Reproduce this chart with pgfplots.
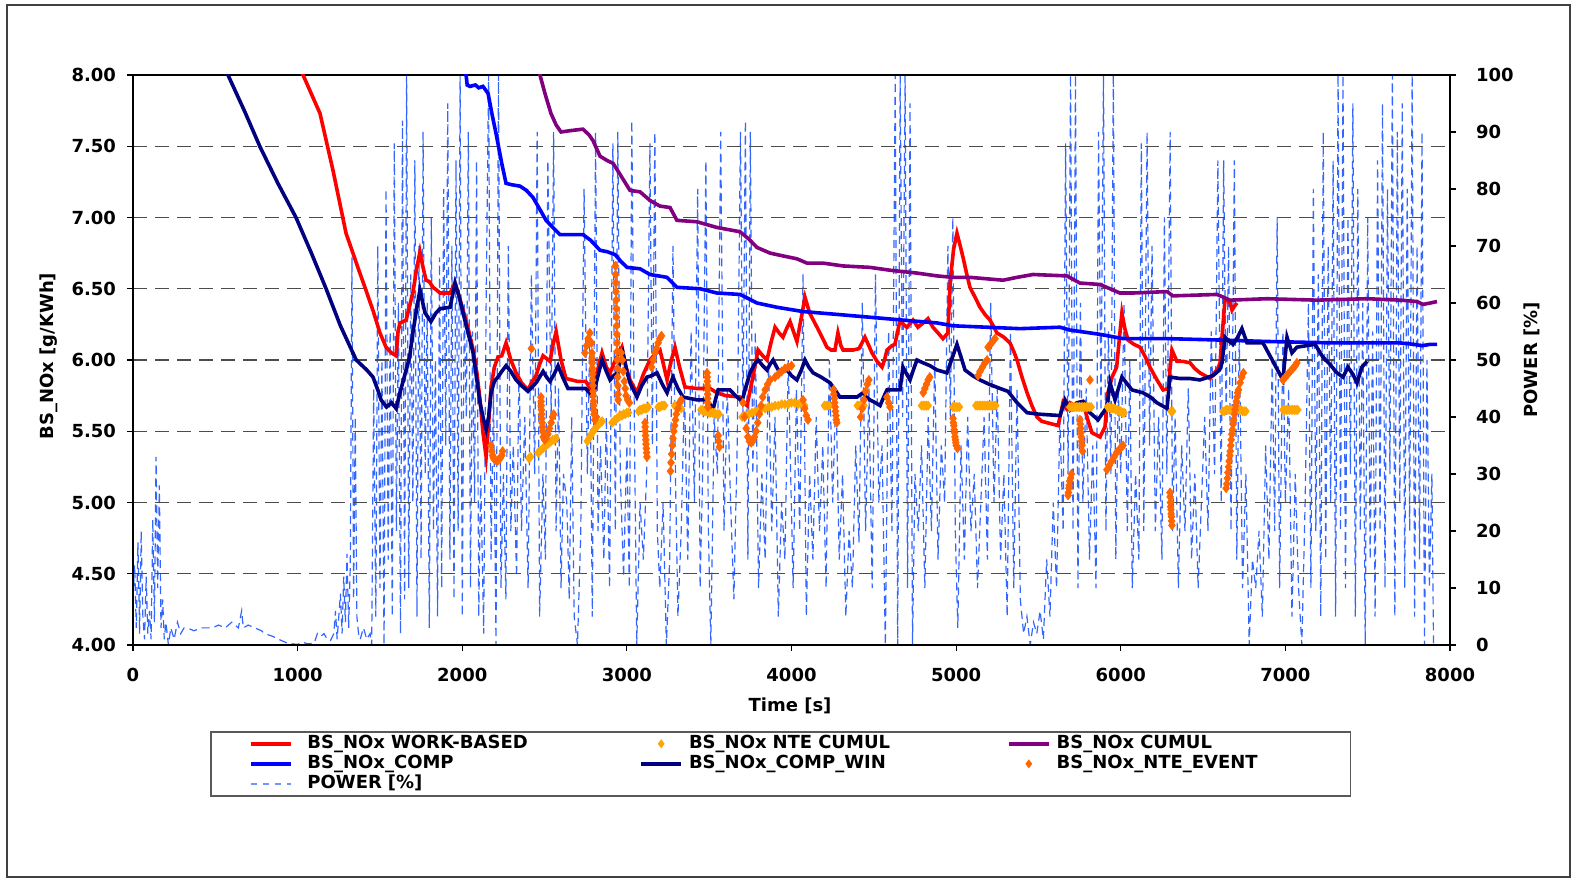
\documentclass[border=0pt]{standalone}
\usepackage{fontspec}
\setmainfont{DejaVu Sans}
\usepackage{pgfplots}
\usepackage{pgfplotstable}
\pgfplotsset{compat=1.18}
\definecolor{cRed}{RGB}{255,0,0}
\definecolor{cBlue}{RGB}{0,0,255}
\definecolor{cNavy}{RGB}{0,0,128}
\definecolor{cPurple}{RGB}{128,0,128}
\definecolor{cLOr}{RGB}{255,165,0}
\definecolor{cDOr}{RGB}{255,102,0}
\definecolor{cPow}{RGB}{51,102,255}
\newcommand\lbl{\fontsize{9}{10.5}\selectfont\bfseries}

\pgfplotstableread{
x y
450 8.33
577 8.00
680 7.74
770 7.50
880 7.24
990 7.00
1080 6.76
1173 6.50
1260 6.24
1356 6.00
1420 5.93
1458 5.88
1490 5.78
1507 5.72
1540 5.67
1570 5.70
1598 5.66
1622 5.77
1659 5.93
1680 6.02
1700 6.19
1720 6.34
1743 6.49
1774 6.33
1810 6.27
1840 6.33
1865 6.36
1926 6.37
1956 6.54
1980 6.45
2005 6.33
2040 6.17
2066 6.05
2090 5.85
2108 5.70
2130 5.58
2145 5.51
2160 5.60
2175 5.77
2195 5.85
2217 5.88
2240 5.92
2266 5.96
2295 5.92
2327 5.86
2360 5.82
2399 5.78
2425 5.81
2448 5.84
2470 5.88
2491 5.92
2512 5.88
2533 5.85
2558 5.90
2582 5.96
2610 5.88
2642 5.80
2700 5.80
2750 5.80
2794 5.74
2820 5.87
2849 6.00
2875 5.92
2898 5.86
2920 5.89
2940 5.91
2960 5.99
2976 6.05
3000 5.92
3019 5.84
3061 5.74
3090 5.82
3122 5.88
3150 5.89
3183 5.91
3215 5.83
3244 5.77
3262 5.83
3280 5.88
3310 5.80
3341 5.74
3426 5.72
3487 5.72
3510 5.68
3523 5.65
3540 5.73
3554 5.79
3626 5.79
3660 5.75
3699 5.71
3725 5.82
3748 5.91
3775 5.97
3797 6.00
3825 5.96
3851 5.93
3870 5.97
3888 6.00
3910 5.95
3930 5.91
3950 5.92
3973 5.93
4000 5.89
4033 5.86
4060 5.93
4082 6.00
4105 5.95
4131 5.91
4180 5.88
4234 5.84
4265 5.79
4294 5.74
4350 5.74
4398 5.74
4434 5.77
4455 5.74
4477 5.72
4510 5.70
4538 5.68
4560 5.74
4580 5.79
4659 5.79
4677 5.95
4700 5.90
4720 5.86
4740 5.93
4762 6.00
4800 5.98
4841 5.96
4884 5.93
4944 5.91
4975 6.01
5005 6.11
5030 6.02
5054 5.93
5100 5.89
5145 5.86
5200 5.83
5267 5.80
5315 5.78
5370 5.70
5431 5.63
5500 5.62
5631 5.61
5661 5.72
5692 5.65
5734 5.70
5771 5.71
5813 5.63
5862 5.58
5916 5.67
5935 5.84
5965 5.72
6007 5.88
6068 5.79
6135 5.77
6180 5.74
6220 5.70
6281 5.66
6299 5.88
6360 5.87
6421 5.87
6481 5.86
6560 5.89
6600 5.93
6615 5.98
6633 6.16
6660 6.13
6682 6.11
6710 6.16
6736 6.22
6767 6.12
6864 6.12
6920 6.00
6985 5.86
7010 6.16
7040 6.05
7070 6.09
7180 6.11
7228 6.02
7270 5.97
7313 5.91
7350 5.88
7380 5.95
7410 5.90
7435 5.84
7465 5.95
7496 5.99
}\tNavy

\pgfplotstableread{
x y
950 8.22
1033 8.00
1136 7.73
1215 7.33
1294 6.89
1336 6.75
1375 6.62
1415 6.49
1460 6.34
1500 6.19
1537 6.09
1570 6.05
1598 6.03
1610 6.20
1622 6.26
1659 6.28
1680 6.38
1700 6.47
1720 6.62
1743 6.76
1760 6.66
1780 6.56
1800 6.55
1822 6.51
1845 6.49
1865 6.47
1926 6.47
1956 6.54
1980 6.45
2005 6.35
2040 6.20
2066 6.07
2090 5.90
2108 5.72
2125 5.50
2145 5.32
2160 5.55
2175 5.81
2195 5.95
2217 6.02
2240 6.03
2266 6.12
2295 6.00
2327 5.91
2360 5.84
2399 5.79
2425 5.85
2448 5.89
2470 5.97
2491 6.03
2512 6.01
2533 5.99
2550 6.10
2570 6.20
2600 6.00
2630 5.87
2700 5.85
2750 5.85
2794 5.77
2820 5.92
2849 6.05
2875 5.95
2898 5.91
2930 6.00
2970 6.09
2995 5.95
3019 5.86
3061 5.77
3100 5.90
3140 6.00
3170 6.04
3201 6.07
3220 5.98
3244 5.86
3270 6.00
3292 6.09
3320 5.95
3353 5.81
3426 5.80
3505 5.80
3547 5.77
3600 5.75
3687 5.74
3710 5.70
3730 5.68
3760 5.85
3797 6.07
3825 6.03
3851 6.00
3875 6.12
3900 6.23
3925 6.19
3948 6.16
3970 6.22
3991 6.27
4012 6.20
4033 6.13
4060 6.30
4082 6.44
4110 6.33
4155 6.23
4190 6.15
4215 6.09
4240 6.07
4264 6.07
4282 6.19
4300 6.10
4313 6.07
4374 6.07
4410 6.08
4446 6.16
4470 6.10
4489 6.05
4520 5.99
4550 5.95
4565 6.00
4580 6.07
4610 6.10
4628 6.11
4645 6.20
4659 6.28
4680 6.25
4701 6.23
4738 6.28
4768 6.23
4800 6.26
4829 6.29
4859 6.23
4890 6.19
4920 6.15
4950 6.19
4958 6.40
4966 6.58
4985 6.78
5005 6.89
5025 6.80
5042 6.72
5065 6.60
5084 6.51
5115 6.44
5145 6.37
5175 6.32
5206 6.28
5230 6.23
5248 6.19
5290 6.16
5327 6.12
5350 6.06
5370 6.00
5400 5.88
5431 5.77
5460 5.68
5491 5.60
5520 5.57
5552 5.56
5619 5.54
5635 5.62
5649 5.70
5670 5.66
5692 5.70
5720 5.68
5771 5.70
5800 5.58
5825 5.49
5874 5.46
5904 5.53
5922 5.77
5947 5.88
5975 5.95
6000 6.25
6007 6.33
6025 6.22
6044 6.14
6080 6.11
6117 6.09
6150 6.02
6177 5.95
6220 5.86
6257 5.79
6290 5.80
6300 5.95
6311 6.07
6341 5.99
6380 5.99
6421 5.98
6450 5.94
6481 5.91
6542 5.87
6590 5.94
6603 5.98
6615 6.16
6633 6.42
6650 6.42
6664 6.40
6676 6.35
6692 6.38
6706 6.40
}\tRed

\pgfplotstableread{
x y
1985 8.40
2030 7.93
2047 7.92
2080 7.93
2100 7.91
2126 7.92
2157 7.87
2180 7.73
2205 7.59
2240 7.38
2266 7.24
2300 7.23
2351 7.22
2390 7.19
2430 7.14
2470 7.06
2509 6.98
2550 6.93
2594 6.88
2733 6.88
2780 6.84
2837 6.77
2880 6.76
2928 6.74
2965 6.69
3001 6.65
3080 6.64
3140 6.60
3244 6.58
3304 6.51
3444 6.50
3547 6.47
3687 6.46
3740 6.43
3790 6.40
3912 6.37
4070 6.34
4276 6.32
4477 6.30
4677 6.28
4884 6.26
4981 6.24
5188 6.23
5388 6.22
5631 6.23
5692 6.21
5874 6.18
6014 6.15
6281 6.15
6603 6.14
6888 6.13
7289 6.12
7696 6.12
7780 6.11
7830 6.10
7880 6.11
7921 6.11
}\tBlue

\pgfplotstableread{
x y
2440 8.40
2472 8.00
2505 7.86
2539 7.73
2570 7.65
2600 7.60
2660 7.61
2733 7.62
2770 7.58
2794 7.54
2837 7.43
2880 7.40
2916 7.38
2960 7.30
3019 7.19
3080 7.18
3140 7.12
3201 7.08
3262 7.07
3304 6.98
3426 6.97
3547 6.93
3687 6.90
3740 6.85
3790 6.79
3870 6.75
3950 6.73
4033 6.71
4094 6.68
4191 6.68
4313 6.66
4477 6.65
4598 6.63
4762 6.61
4884 6.59
4981 6.58
5084 6.58
5285 6.56
5370 6.58
5467 6.60
5673 6.59
5752 6.54
5874 6.53
5995 6.47
6074 6.47
6281 6.48
6317 6.45
6585 6.46
6664 6.42
6888 6.43
7192 6.42
7496 6.43
7700 6.42
7800 6.41
7836 6.39
7880 6.40
7921 6.41
}\tPurple

\pgfplotstableread{
x y
2405 5.31
2415 5.32
2460 5.35
2470 5.36
2480 5.37
2490 5.38
2500 5.39
2510 5.40
2520 5.41
2530 5.42
2540 5.43
2550 5.44
2560 5.44
2570 5.45
2760 5.43
2770 5.45
2780 5.47
2790 5.49
2800 5.51
2810 5.52
2820 5.54
2830 5.55
2840 5.56
2850 5.57
2910 5.56
2920 5.57
2930 5.58
2940 5.59
2950 5.60
2960 5.61
2970 5.61
2980 5.62
2990 5.62
3000 5.63
3010 5.63
3070 5.64
3080 5.65
3090 5.65
3100 5.66
3110 5.66
3120 5.66
3130 5.67
3190 5.67
3200 5.67
3210 5.68
3220 5.68
3230 5.68
3290 5.68
3300 5.67
3310 5.67
3320 5.67
3330 5.66
3450 5.65
3460 5.65
3470 5.64
3480 5.64
3490 5.64
3500 5.63
3510 5.63
3520 5.63
3530 5.63
3540 5.62
3550 5.62
3560 5.62
3700 5.60
3720 5.61
3740 5.62
3760 5.63
3780 5.64
3800 5.65
3820 5.66
3840 5.66
3860 5.67
3880 5.67
3900 5.68
3920 5.68
3940 5.69
3960 5.69
3980 5.69
4000 5.70
4020 5.70
4040 5.69
4060 5.69
4080 5.68
4200 5.68
4210 5.68
4220 5.68
4230 5.68
4400 5.68
4410 5.68
4420 5.68
4430 5.68
4440 5.68
4790 5.68
4800 5.68
4810 5.68
4820 5.68
4830 5.68
4980 5.67
4990 5.67
5000 5.67
5010 5.67
5020 5.67
5120 5.68
5130 5.68
5140 5.68
5150 5.68
5160 5.68
5170 5.68
5180 5.68
5190 5.68
5200 5.68
5210 5.68
5220 5.68
5230 5.68
5240 5.68
5690 5.67
5700 5.67
5710 5.67
5720 5.67
5730 5.67
5740 5.67
5750 5.67
5760 5.67
5770 5.67
5780 5.67
5790 5.67
5800 5.67
5810 5.67
5820 5.67
5920 5.67
5930 5.67
5940 5.66
5950 5.66
5960 5.66
5970 5.65
5980 5.65
5990 5.64
6000 5.64
6010 5.63
6020 5.63
6305 5.64
6315 5.64
6620 5.64
6630 5.64
6640 5.65
6650 5.65
6660 5.65
6670 5.65
6680 5.65
6690 5.65
6700 5.65
6710 5.65
6720 5.65
6730 5.65
6740 5.64
6750 5.64
6760 5.64
6985 5.65
6995 5.65
7005 5.65
7015 5.65
7025 5.65
7035 5.65
7045 5.65
7055 5.65
7065 5.65
7075 5.65
}\tNteCum

\pgfplotstableread{
x y
2175 5.40
2180 5.36
2185 5.33
2190 5.31
2200 5.30
2210 5.29
2220 5.30
2230 5.31
2240 5.33
2245 5.36
2420 6.08
2478 5.74
2479 5.71
2480 5.68
2481 5.65
2482 5.62
2483 5.59
2485 5.56
2486 5.53
2488 5.50
2492 5.46
2500 5.44
2510 5.45
2520 5.48
2530 5.52
2540 5.56
2548 5.60
2555 5.62
2745 6.05
2755 6.10
2765 6.15
2775 6.19
2785 6.12
2788 6.05
2789 6.01
2790 5.98
2791 5.94
2792 5.90
2793 5.86
2794 5.82
2795 5.78
2796 5.75
2797 5.71
2798 5.68
2799 5.65
2800 5.62
2805 5.58
2815 5.60
2930 6.66
2932 6.60
2933 6.54
2934 6.48
2935 6.42
2936 6.36
2937 6.30
2938 6.24
2939 6.18
2940 6.12
2941 6.06
2942 6.00
2943 5.94
2944 5.88
2945 5.82
2946 5.76
2947 5.72
2965 6.05
2972 6.00
2978 5.92
2985 5.85
2990 5.80
2995 5.75
3005 5.72
3015 5.70
3110 5.56
3111 5.53
3112 5.50
3113 5.47
3115 5.44
3116 5.41
3118 5.38
3120 5.35
3122 5.32
3150 5.95
3160 6.00
3170 6.05
3180 6.08
3190 6.12
3200 6.15
3210 6.17
3265 5.22
3268 5.28
3272 5.34
3276 5.40
3280 5.45
3285 5.50
3290 5.54
3295 5.58
3300 5.62
3310 5.66
3320 5.70
3330 5.72
3487 5.91
3488 5.88
3489 5.85
3489.5 5.82
3490 5.79
3490.5 5.76
3491 5.73
3491.5 5.70
3492 5.67
3555 5.47
3558 5.43
3562 5.39
3705 5.70
3715 5.60
3725 5.52
3735 5.46
3745 5.43
3755 5.42
3765 5.43
3775 5.46
3785 5.50
3795 5.56
3805 5.62
3815 5.68
3825 5.74
3840 5.79
3855 5.83
3870 5.86
3900 5.88
3920 5.90
3940 5.92
3960 5.94
3980 5.95
4000 5.96
4070 5.72
4080 5.66
4090 5.61
4100 5.58
4255 5.79
4257 5.76
4260 5.73
4262 5.70
4265 5.67
4267 5.64
4270 5.61
4272 5.58
4275 5.56
4420 5.60
4430 5.66
4440 5.72
4450 5.78
4460 5.83
4470 5.86
4580 5.74
4590 5.70
4598 5.67
4800 5.77
4810 5.80
4820 5.83
4830 5.86
4840 5.88
4981 5.59
4983 5.56
4986 5.54
4988 5.51
4991 5.49
4993 5.46
4996 5.44
4998 5.42
5001 5.40
5008 5.38
5133 5.89
5145 5.92
5160 5.95
5175 5.98
5188 6.00
5194 6.09
5208 6.11
5222 6.13
5236 6.15
5680 5.05
5682 5.07
5685 5.10
5687 5.12
5690 5.15
5695 5.17
5700 5.20
5752 5.58
5754 5.55
5756 5.52
5758 5.49
5760 5.46
5762 5.43
5764 5.40
5768 5.36
5813 5.86
5916 5.23
5930 5.26
5945 5.29
5960 5.32
5975 5.35
5990 5.37
6005 5.39
6014 5.40
6299 5.07
6300 5.04
6302 5.00
6303 4.97
6305 4.95
6306 4.92
6308 4.90
6309 4.87
6311 4.84
6640 5.10
6644 5.13
6648 5.17
6651 5.21
6655 5.25
6658 5.29
6662 5.33
6665 5.36
6668 5.40
6671 5.44
6675 5.48
6678 5.51
6682 5.55
6686 5.58
6690 5.62
6694 5.65
6698 5.68
6702 5.71
6706 5.74
6710 5.77
6715 5.79
6725 5.84
6735 5.88
6745 5.91
6985 5.86
7000 5.88
7015 5.90
7030 5.92
7045 5.94
7060 5.96
7070 5.98
}\tNteEv

\pgfplotstableread{
x y
0 8
10 14
20 3
30 18
40 2
50 20
60 5
70 1
80 12
90 2
100 6
110 1
120 22
130 4
140 33
150 10
160 28
170 3
180 8
190 1
200 4
215 0
230 3
250 1
270 4
290 2
310 3
330 3
370 2.5
420 3
480 3
520 3.5
560 3
600 4
640 3
660 6
670 3
700 3.5
740 3
780 2.5
800 2
850 1.5
900 0.8
940 0.3
1000 0.1
1030 0.5
1060 0.2
1100 0.3
1120 2
1140 1.5
1160 2
1180 1
1200 0.8
1220 2
1230 6
1240 1
1250 5
1260 9
1270 2
1280 12
1290 4
1300 16
1310 3
1320 14
1330 68
1340 8
1350 40
1360 5
1370 2
1380 1
1400 3
1420 1
1440 2
1450 0
1462 45
1475 5
1487 70
1500 10
1512 50
1525 0
1537 80
1550 15
1562 55
1575 5
1587 88
1600 20
1612 60
1625 2
1637 92
1650 8
1662 100
1675 10
1687 65
1700 25
1712 85
1725 5
1737 70
1750 15
1762 90
1775 30
1787 60
1800 3
1812 75
1825 20
1837 50
1850 5
1862 68
1875 10
1887 80
1900 35
1912 95
1925 15
1937 70
1950 8
1962 85
1975 20
1987 100
2000 5
2012 60
2025 40
2037 90
2050 10
2062 55
2075 25
2087 85
2100 5
2112 30
2130 2
2145 60
2160 100
2175 15
2190 45
2205 0
2220 100
2235 10
2250 30
2265 8
2280 70
2295 20
2310 35
2330 12
2345 50
2360 20
2380 40
2400 10
2420 65
2440 30
2455 90
2470 5
2490 30
2505 15
2520 85
2540 40
2555 90
2570 20
2585 45
2600 10
2615 30
2635 25
2650 8
2665 40
2680 5
2700 0
2720 20
2740 80
2760 30
2775 55
2790 5
2810 90
2825 20
2840 35
2860 15
2875 40
2895 10
2915 88
2930 20
2945 90
2960 30
2980 12
3000 35
3015 10
3030 92
3045 40
3060 0
3080 25
3100 15
3120 30
3140 88
3155 35
3170 90
3185 20
3200 10
3220 25
3240 0
3260 15
3280 70
3295 30
3310 5
3330 20
3350 45
3370 15
3390 55
3410 25
3430 80
3445 10
3460 30
3480 85
3495 20
3510 0
3530 40
3550 30
3570 90
3590 20
3610 45
3630 25
3650 8
3670 35
3690 90
3705 40
3720 92
3735 15
3750 90
3765 30
3780 55
3800 10
3820 30
3840 15
3860 50
3880 20
3900 40
3920 5
3940 25
3960 15
3980 50
3995 30
4010 10
4030 45
4050 20
4070 65
4090 5
4110 30
4130 15
4150 40
4170 20
4190 35
4210 10
4230 50
4250 25
4270 45
4290 15
4310 30
4330 5
4350 20
4370 10
4390 35
4410 18
4430 60
4450 20
4470 45
4490 10
4510 65
4530 25
4550 35
4570 0
4590 55
4610 20
4630 100
4645 0
4660 100
4675 40
4690 100
4705 10
4720 95
4735 0
4750 30
4770 20
4790 35
4810 10
4830 40
4850 20
4870 50
4890 15
4910 35
4930 25
4950 70
4965 40
4980 75
4995 20
5010 3
5030 35
5050 15
5070 40
5090 20
5110 30
5130 10
5150 25
5170 40
5190 15
5210 60
5230 25
5250 45
5270 15
5290 30
5310 5
5330 55
5350 10
5370 45
5390 8
5410 2
5430 5
5450 0
5470 4
5490 2
5510 6
5530 1
5550 15
5570 5
5590 25
5610 10
5630 40
5650 20
5665 88
5680 30
5695 100
5710 20
5725 100
5740 10
5755 60
5770 25
5790 45
5810 15
5830 35
5850 10
5865 90
5880 40
5895 100
5910 20
5925 55
5940 30
5955 100
5970 15
5985 45
6000 30
6020 60
6040 20
6055 50
6070 10
6090 30
6110 15
6125 88
6140 20
6160 90
6175 35
6190 70
6210 20
6230 40
6250 15
6265 75
6280 30
6300 90
6315 20
6330 40
6350 10
6370 35
6390 20
6410 45
6430 15
6450 30
6470 10
6490 25
6510 40
6530 20
6550 55
6570 30
6590 85
6610 25
6625 85
6640 40
6655 70
6670 20
6690 85
6705 15
6720 55
6740 10
6760 30
6780 0
6800 15
6820 10
6840 20
6860 5
6880 35
6900 15
6920 50
6935 20
6950 75
6965 10
6985 55
7000 25
7020 45
7040 5
7060 30
7080 10
7100 0
7120 25
7140 60
7155 10
7170 80
7185 20
7200 65
7215 5
7230 90
7245 15
7260 70
7275 25
7290 85
7305 5
7320 100
7335 20
7350 100
7365 10
7380 75
7395 30
7410 95
7425 5
7440 80
7455 20
7470 60
7485 0
7500 75
7515 15
7530 55
7545 5
7560 85
7575 20
7590 95
7605 10
7620 80
7635 30
7650 100
7665 5
7680 90
7695 25
7710 95
7725 10
7740 80
7755 20
7770 100
7785 5
7800 70
7815 15
7830 90
7845 0
7860 50
7875 10
7890 30
7900 0
}\tPow

\begin{document}
\begin{tikzpicture}
\useasboundingbox (0pt,0pt) rectangle (787pt,439pt);
\draw[line width=1pt, black!75] (3.5pt,0.5pt) rectangle (785pt,436.5pt);

% secondary axis: power
\begin{axis}[
  at={(66.5pt,116.5pt)}, anchor=south west,
  width=658.5pt, height=285pt, scale only axis,
  xmin=0, xmax=8000, ymin=0, ymax=100,
  axis x line=none, axis y line*=right,
  axis line style={black, line width=0.6pt},
  ytick={0,10,...,100}, tick align=outside, major tick length=3pt,
  tick style={black, line width=0.6pt},
  /pgf/number format/assume math mode=true,
  yticklabel style={font=\lbl, xshift=6.5pt},
  every axis y label/.style={at={(rel axis cs:1,0.5)}, xshift=41pt, rotate=90, anchor=center, font=\lbl},
  ylabel={POWER [\%]},
]
\addplot[cPow, line width=0.6pt, dash pattern=on 4pt off 2.5pt] table {\tPow};
\end{axis}

% primary axis
\begin{axis}[
  at={(66.5pt,116.5pt)}, anchor=south west,
  width=658.5pt, height=285pt, scale only axis,
  xmin=0, xmax=8000, ymin=4, ymax=8,
  xtick={0,1000,...,8000}, ytick={4,4.5,...,8},
  tick align=outside, tick pos=left, major tick length=3pt,
  tick style={black, line width=0.6pt},
  axis line style={line width=0.6pt},
  ymajorgrids, grid style={black!70, line width=0.6pt, dash pattern=on 7pt off 4pt},
  /pgf/number format/assume math mode=true,
  x tick label style={font=\lbl, yshift=-5pt, /pgf/number format/1000 sep={}},
  y tick label style={font=\lbl, xshift=-2pt, /pgf/number format/fixed, /pgf/number format/fixed zerofill, /pgf/number format/precision=2},
  every axis x label/.style={at={(axis description cs:0.4989,0)}, yshift=-30.5pt, anchor=center, font=\lbl},
  every axis y label/.style={at={(axis description cs:0,0.507)}, xshift=-42pt, rotate=90, anchor=center, font=\lbl},
  xlabel={Time [s]}, ylabel={BS\_NOx [g/KWh]},
  legend columns=3, legend cell align=left,
  legend image code/.code={\draw[mark repeat=2,mark phase=2,#1] plot coordinates {(0pt,0pt) (10pt,0pt) (20pt,0pt)};},
  legend style={at={(axis description cs:0.05847,-0.1509)}, anchor=north west,
    draw=black!65, line width=0.8pt, inner xsep=19pt, inner ysep=1pt, font=\lbl,
    nodes={text width=128pt, text height=7pt, text depth=2.5pt, inner xsep=0pt, inner ysep=0.25pt, align=left},
    /tikz/column 1/.style={column sep=7.5pt},
    /tikz/column 2/.style={column sep=38pt},
    /tikz/column 3/.style={column sep=3pt},
    /tikz/column 4/.style={column sep=31pt},
    /tikz/column 5/.style={column sep=3pt}},
]
\addplot[cRed, line width=1.8pt, forget plot] table {\tRed};
\addplot[only marks, mark=diamond*, mark size=2.2pt, color=cLOr, forget plot] table {\tNteCum};
\addplot[cPurple, line width=1.8pt, forget plot] table {\tPurple};
\addplot[cBlue, line width=1.8pt, forget plot] table {\tBlue};
\addplot[cNavy, line width=1.8pt, forget plot] table {\tNavy};
\addplot[only marks, mark=diamond*, mark size=2.2pt, color=cDOr, forget plot] table {\tNteEv};

\addlegendimage{cRed, line width=1.8pt}
\addlegendentry{BS\_NOx WORK-BASED}
\addlegendimage{only marks, mark=diamond*, mark size=1.6pt, color=cLOr}
\addlegendentry{BS\_NOx NTE CUMUL}
\addlegendimage{cPurple, line width=1.8pt}
\addlegendentry{BS\_NOx CUMUL}
\addlegendimage{cBlue, line width=1.8pt}
\addlegendentry{BS\_NOx\_COMP}
\addlegendimage{cNavy, line width=1.8pt}
\addlegendentry{BS\_NOx\_COMP\_WIN}
\addlegendimage{only marks, mark=diamond*, mark size=1.6pt, color=cDOr}
\addlegendentry{BS\_NOx\_NTE\_EVENT}
\addlegendimage{cPow!70, line width=0.8pt, dash pattern=on 3pt off 3pt}
\addlegendentry{POWER [\%]}
\end{axis}
\end{tikzpicture}
\end{document}
